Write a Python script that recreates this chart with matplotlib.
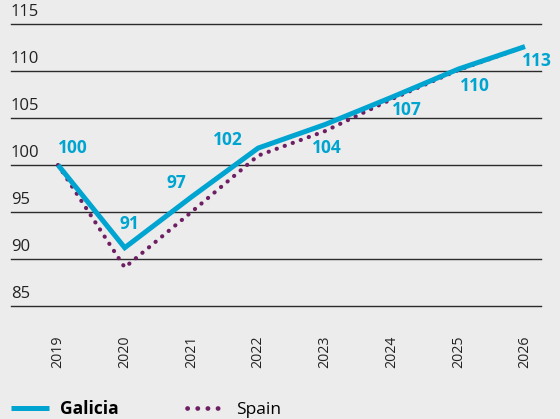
import matplotlib.pyplot as plt
from matplotlib.lines import Line2D

years = [2019, 2020, 2021, 2022, 2023, 2024, 2025, 2026]
galicia = [100.0, 91.2, 96.6, 101.8, 104.3, 107.2, 110.2, 112.6]
spain = [100.0, 89.1, 95.0, 101.0, 103.6, 107.0, 110.1, 112.6]
galicia_labels = ["100", "91", "97", "102", "104", "107", "110", "113"]
y_ticks = [85, 90, 95, 100, 105, 110, 115]

BG = "#ebeceb"
BLUE = "#00a4d1"
PURPLE = "#6e1f63"
GRID = "#2b2b2b"

plt.rcParams["font.family"] = ["Open Sans", "DejaVu Sans"]

fig = plt.figure(figsize=(5.6, 4.19), dpi=100, facecolor=BG)
ax = fig.add_axes([11 / 560, 1 - 306 / 419, 530 / 560, 282 / 419])
ax.set_facecolor(BG)
ax.set_xlim(2018.295, 2026.24)
ax.set_ylim(85, 115)

for v in y_ticks:
    ax.axhline(v, color=GRID, lw=1.0, zorder=1, clip_on=False)
    ax.text(ax.get_xlim()[0], v + 0.4, str(v), fontsize=12, color="#222222",
            ha="left", va="bottom", zorder=2)

ax.plot(years, spain, color=PURPLE, lw=3.0, linestyle=(0, (0.05, 2.0)),
        dash_capstyle="round", zorder=3)
ax.plot(years, galicia, color=BLUE, lw=3.6, solid_capstyle="butt",
        solid_joinstyle="miter", zorder=4)

# label offsets in pixels (dx, dy), dy positive = up
offsets = [(15, 17), (5, 24), (-15, 14), (-30, 8), (2, -23), (15, -13), (17, -17), (12, -14)]
for x, y, lab, (dx, dy) in zip(years, galicia, galicia_labels, offsets):
    ax.annotate(lab, (x, y), xytext=(dx * 0.72, dy * 0.72), textcoords="offset points",
                ha="center", va="center", fontsize=12.5, fontweight="bold",
                color=BLUE, zorder=5)

ax.set_xticks(years)
ax.set_xticklabels([str(y) for y in years], rotation=90, fontsize=10.2, color="#222222")
ax.tick_params(axis="x", length=0, pad=21)
ax.set_yticks([])
for s in ax.spines.values():
    s.set_visible(False)

handles = [
    Line2D([], [], color=BLUE, lw=3.6, solid_capstyle="butt"),
    Line2D([], [], color=PURPLE, lw=3.4, linestyle=(0, (0.05, 2.1)), dash_capstyle="round"),
]
leg = fig.legend(handles, ["Galicia", "Spain"], loc="center left",
                 bbox_to_anchor=(11 / 560, 10 / 419), ncol=2, frameon=False,
                 borderpad=0, borderaxespad=0,
                 handlelength=2.2, handletextpad=0.65, columnspacing=3.9,
                 fontsize=12.5)
leg.get_texts()[0].set_fontweight("bold")

fig.savefig("out.png", dpi=100, facecolor=BG)
